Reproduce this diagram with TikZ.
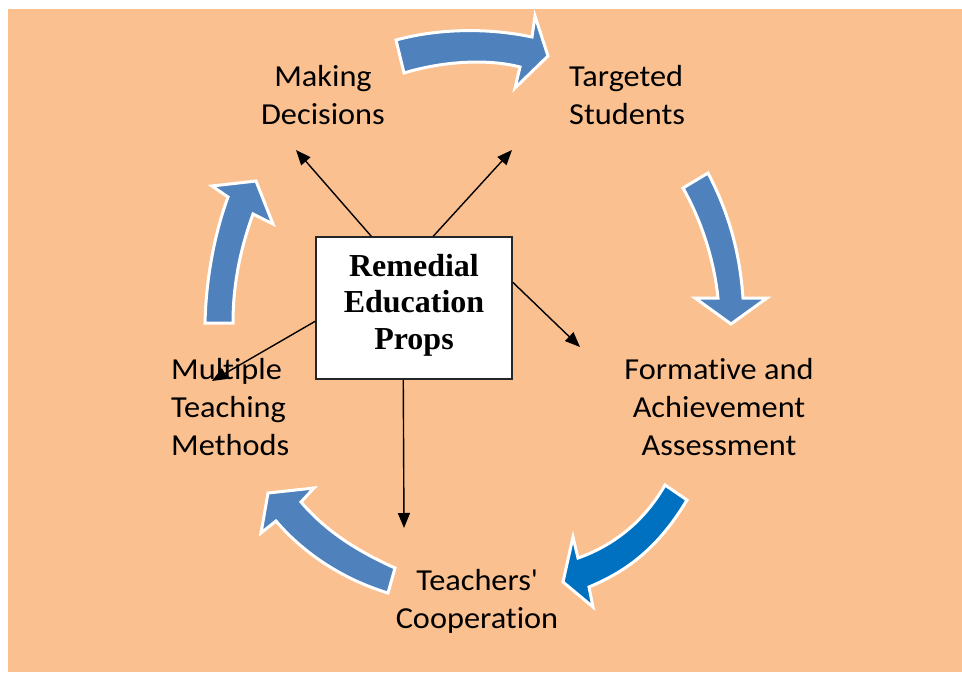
\documentclass[tikz,border=0pt]{standalone}
\usepackage{fontspec}
\setmainfont{Carlito}[Ligatures={NoCommon}, FakeStretch=1.06]
\newfontfamily\boxfont{Liberation Serif}
\usetikzlibrary{arrows.meta,calc}
\definecolor{bgorange}{HTML}{FAC090}
\definecolor{cycblue}{HTML}{4F81BD}
\definecolor{cycdark}{HTML}{0070C0}
\tikzset{
  label/.style={inner sep=0pt, font=\fontsize{30.5}{38}\selectfont, text=black},
  propbox/.style={draw=black!85, line width=1.5pt, fill=white, minimum width=196pt, minimum height=142pt, inner sep=0pt},
  boxtext/.style={inner sep=0pt, align=center, font=\boxfont\bfseries\fontsize{32}{36.5}\selectfont},
  spoke/.style={line width=1.4pt, -{Triangle[length=15pt,width=12pt]}},
  blockarrow/.style={fill=cycblue, draw=white, line width=3pt, line join=miter},
}
\begin{document}
\begin{tikzpicture}[x=1pt,y=-1pt]
\useasboundingbox (0,0) rectangle (962,675);
\fill[bgorange] (8,9) rectangle (962,672);

% curved block arrows of the cycle
\path[blockarrow] (396,40) .. controls (440,28) and (490,28) .. (532,37) -- (535,16) -- (548,56) -- (515,88) -- (520,67) .. controls (485,58) and (440,62) .. (404,73) -- cycle;
\path[blockarrow] (683,188) -- (708,173) .. controls (730,215) and (740,255) .. (743,298) -- (767,298) -- (731,324) -- (695,298) -- (718,298) .. controls (714,260) and (702,222) .. (683,188) -- cycle;
\path[blockarrow, fill=cycdark] (665,485) -- (687,500) .. controls (660,545) and (630,570) .. (589,587) -- (593,607) -- (563,582) -- (573,537) -- (578,558) .. controls (615,545) and (645,520) .. (665,485) -- cycle;
\path[blockarrow] (395,568) .. controls (355,550) and (325,530) .. (301,502) -- (314,488) -- (268,493) -- (261,533) -- (276,521) .. controls (305,555) and (345,580) .. (388,593) -- cycle;
\path[blockarrow] (205,323) -- (233,323) .. controls (233,285) and (240,250) .. (253,214) -- (273,224) -- (256,181) -- (212,186) -- (228,197) .. controls (214,235) and (206,280) .. (205,323) -- cycle;

% labels
\node[label, align=center] (making) at (323,95) {Making\\Decisions};
\node[label, align=left, anchor=west] (targeted) at (569,95) {Targeted\\Students};
\node[label, align=center] (formative) at (719,407) {Formative and\\Achievement\\Assessment};
\node[label, align=center] (teachers) at (477,601) {Teachers\textquotesingle\\Cooperation};
\node[label, align=left, anchor=west] (multiple) at (171,407) {Multiple\\Teaching\\Methods};

% central box
\node[propbox] (box) at (414,308) {};
\node[boxtext] (boxt) at (414,305) {Remedial\\Education\\Props};

% spokes
\coordinate (e1) at (296,150);
\coordinate (e2) at (512,150);
\coordinate (e3) at (580,347);
\coordinate (e4) at (212,381);
\coordinate (e5) at (404,528);
\draw[spoke] ($(box.north west)+(56,0)$) -- (e1);
\draw[spoke] ($(box.north west)+(118,0)$) -- (e2);
\draw[spoke] ($(box.north east)+(0,46)$) -- (e3);
\draw[spoke] ($(box.north west)+(0,85)$) -- (e4);
\draw[spoke] ($(box.south west)+(88,0)$) -- (e5);
\end{tikzpicture}
\end{document}
